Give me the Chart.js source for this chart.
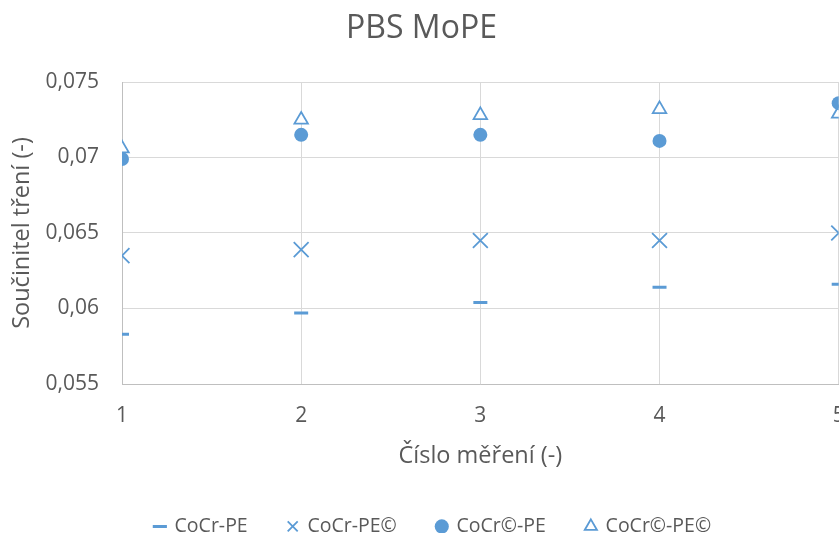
<!DOCTYPE html>
<html>
<head>
<meta charset="utf-8">
<script src="https://cdn.jsdelivr.net/npm/chart.js@4/dist/chart.umd.min.js"></script>
<style>
  html, body { margin: 0; padding: 0; background: #fff; overflow: hidden; }
  #wrap { position: relative; width: 851px; height: 533px; }
</style>
</head>
<body>
<div id="wrap"><canvas id="chart"></canvas></div>
<script>
const measurements = [1, 2, 3, 4, 5];
const xTickLabels = ['1', '2', '3', '4', '5'];
const yTickLabels = ['0,055', '0,06', '0,065', '0,07', '0,075'];

const seriesNames = ['CoCr-PE', 'CoCr-PE©', 'CoCr©-PE', 'CoCr©-PE©'];
const cocrPe = [0.0583, 0.0597, 0.0604, 0.0614, 0.0616];
const cocrPeC = [0.0635, 0.0639, 0.0645, 0.0645, 0.0650];
const cocrCPe = [0.0699, 0.0715, 0.0715, 0.0711, 0.0736];
const cocrCPeC = [0.0706, 0.0725, 0.0728, 0.0732, 0.0729];

const blue = '#5b9bd5';
const textColor = '#595959';
const gridColor = '#d9d9d9';
const axisColor = '#bfbfbf';

Chart.defaults.font.family = "'Open Sans', sans-serif";
Chart.defaults.color = textColor;

const toPoints = (vals) => vals.map((v, i) => ({ x: measurements[i], y: v }));

// the canvas runs past the right edge of the page (the original is cut off there),
// so nudge title and legend back to where they sit in the original
const nudge = {
  id: 'nudge',
  afterLayout(chart) {
    chart.titleBlock.left -= 4;
    chart.titleBlock.right -= 4;
    chart.legend.left += 7.5;
    chart.legend.right += 7.5;
  }
};

new Chart(document.getElementById('chart'), {
  type: 'scatter',
  data: {
    datasets: [
      { label: seriesNames[0], data: toPoints(cocrPe), pointStyle: 'line', pointRadius: 7,
        borderColor: blue, backgroundColor: blue, borderWidth: 3 },
      { label: seriesNames[1], data: toPoints(cocrPeC), pointStyle: 'crossRot', pointRadius: 10.5,
        borderColor: blue, backgroundColor: blue, borderWidth: 1.8 },
      { label: seriesNames[2], data: toPoints(cocrCPe), pointStyle: 'circle', pointRadius: 7,
        borderColor: blue, backgroundColor: blue, borderWidth: 0 },
      { label: seriesNames[3], data: toPoints(cocrCPeC), pointStyle: 'triangle', pointRadius: 7.8,
        borderColor: blue, backgroundColor: '#ffffff', borderWidth: 1.8 }
    ]
  },
  options: {
    responsive: true,
    maintainAspectRatio: false,
    animation: false,
    layout: { padding: 0 },
    plugins: {
      title: {
        display: true,
        text: 'PBS MoPE',
        color: textColor,
        font: { size: 32, weight: 'normal' },
        padding: { top: 10, bottom: 33.6 }
      },
      legend: {
        position: 'bottom',
        maxHeight: 56.35,
        labels: {
          usePointStyle: true,
          boxWidth: 10,
          boxHeight: 10,
          padding: 40,
          color: textColor,
          font: { size: 19.5 }
        }
      },
      tooltip: { enabled: false }
    },
    scales: {
      x: {
        type: 'linear',
        min: 1,
        max: 5,
        ticks: {
          stepSize: 1,
          padding: 19,
          color: textColor,
          font: { size: 21 },
          callback: (v) => xTickLabels[measurements.indexOf(v)]
        },
        grid: { color: gridColor, drawTicks: false },
        border: { color: axisColor, width: 1 },
        title: {
          display: true,
          text: 'Číslo měření (-)',
          color: textColor,
          font: { size: 23.5 },
          padding: { top: -5, bottom: 6.25 }
        },
        afterFit(scale) { scale.paddingRight = 0; scale.paddingLeft = 0; }
      },
      y: {
        min: 0.055,
        max: 0.075,
        ticks: {
          stepSize: 0.005,
          padding: 23,
          color: textColor,
          font: { size: 21 },
          callback: (v, i) => yTickLabels[i]
        },
        grid: { color: gridColor, drawTicks: false },
        border: { color: axisColor, width: 1 },
        title: {
          display: true,
          text: 'Součinitel tření (-)',
          color: textColor,
          font: { size: 23.5 },
          padding: { top: 8.4, bottom: 0 }
        },
        afterFit(scale) { scale.width = 122; }
      }
    }
  },
  plugins: [nudge]
});
</script>
</body>
</html>
